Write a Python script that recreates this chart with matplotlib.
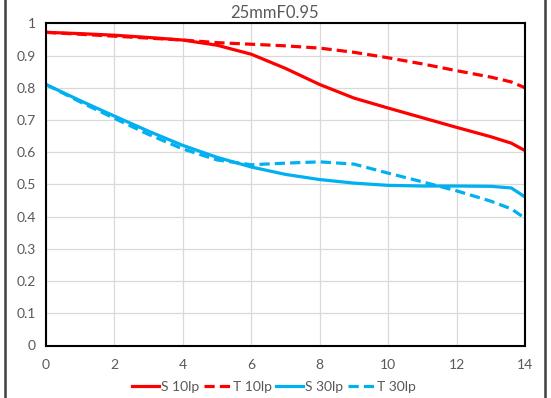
import numpy as np
import matplotlib
matplotlib.use("Agg")
import matplotlib.pyplot as plt
from matplotlib.lines import Line2D

plt.rcParams['font.family'] = ['Lato', 'DejaVu Sans']

#---- Donnees
title = "25mmF0.95"
x_pos = [0, 1, 2, 3, 4, 5, 6, 7, 8, 9, 10, 11, 12, 13, 13.6, 14]

s10 = [0.972, 0.968, 0.963, 0.956, 0.948, 0.932, 0.904, 0.860, 0.810, 0.768, 0.737, 0.707, 0.677, 0.648, 0.628, 0.605]
t10 = [0.972, 0.966, 0.960, 0.954, 0.948, 0.940, 0.935, 0.930, 0.923, 0.910, 0.893, 0.874, 0.853, 0.833, 0.818, 0.800]
s30 = [0.810, 0.760, 0.712, 0.665, 0.621, 0.584, 0.554, 0.531, 0.515, 0.504, 0.497, 0.495, 0.495, 0.494, 0.489, 0.461]
t30 = [0.810, 0.756, 0.705, 0.655, 0.610, 0.576, 0.561, 0.566, 0.570, 0.563, 0.535, 0.508, 0.480, 0.448, 0.424, 0.395]

labels = ["S 10lp", "T 10lp", "S 30lp", "T 30lp"]
x_ticks = [0, 2, 4, 6, 8, 10, 12, 14]
y_ticks = [0, 0.1, 0.2, 0.3, 0.4, 0.5, 0.6, 0.7, 0.8, 0.9, 1]

red = "#FF0000"
blue = "#00B0F0"
txt = "#595959"

#---- Figure
fig = plt.figure(figsize=(5.51, 3.98), dpi=100)
ax = fig.add_axes([46/551, 1-345.5/398, (525-46)/551, (345.5-23.3)/398])

lw = 2.3
dash = (3.2, 1.6)
ax.plot(x_pos, s10, color=red, lw=lw, label=labels[0])
ax.plot(x_pos, t10, color=red, lw=lw, dashes=dash, label=labels[1])
ax.plot(x_pos, s30, color=blue, lw=lw, label=labels[2])
ax.plot(x_pos, t30, color=blue, lw=lw, dashes=dash, label=labels[3])

ax.set_xlim(0, 14)
ax.set_ylim(0, 1)
ax.set_xticks(x_ticks)
ax.set_yticks(y_ticks)
ax.set_xticklabels([str(v) for v in x_ticks])
ax.set_yticklabels(["%g" % v for v in y_ticks])
ax.grid(True, color="#D9D9D9", lw=0.9)
ax.set_axisbelow(True)
for sp in ax.spines.values():
    sp.set_color("black")
    sp.set_linewidth(1.5)
ax.tick_params(axis="both", length=0, labelsize=10, colors=txt)
ax.tick_params(axis="x", pad=10)
ax.tick_params(axis="y", pad=7.5)

#---- Titre
fig.text(274.5/551, 1-12.5/398, title, ha="center", va="center", fontsize=12, color=txt)

#---- Legende
leg = fig.legend(loc="center", bbox_to_anchor=(274/551, 1-387/398), ncol=4, frameon=False,
                 fontsize=10, handlelength=1.95, handletextpad=0.15, columnspacing=0.3,
                 labelcolor=txt)

#---- Cadre exterieur
fig.add_artist(Line2D([4.5/551, 4.5/551], [0, 1], color="#404040", lw=1.8))
fig.add_artist(Line2D([544.5/551, 544.5/551], [0, 1], color="#404040", lw=1.8))

fig.savefig("out.png", dpi=100)
